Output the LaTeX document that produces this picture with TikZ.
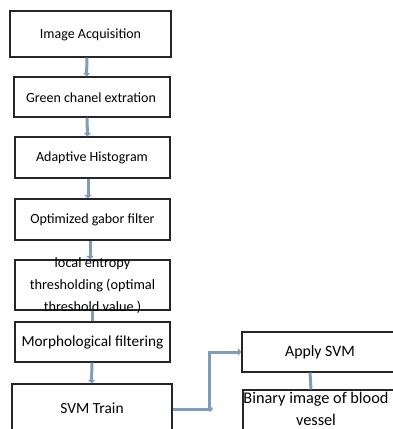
\documentclass[tikz,border=0pt]{standalone}
\usepackage{fontspec}
\setmainfont{Carlito}
\usetikzlibrary{arrows.meta}
\definecolor{arr}{HTML}{7F9CB8}
\tikzset{
  box/.style={draw=black!85, line width=1.1pt, rectangle, inner sep=0pt},
  lbl/.style={font=\fontsize{14}{16}\selectfont, inner sep=0pt, align=center},
  big/.style={font=\fontsize{15.5}{22}\selectfont},
  flow/.style={draw=arr, line width=3pt, -{Triangle[length=3.5pt,width=7pt]}},
  plain/.style={draw=arr, line width=3pt}
}
\begin{document}
\begin{tikzpicture}[x=1pt,y=-1pt]
\useasboundingbox (0,0) rectangle (393,429);
\begin{scope}
\clip (0,0) rectangle (393,429);
\node[box, minimum width=161pt, minimum height=46pt] (b1) at (90.5,34) {};
\node[box, minimum width=156pt, minimum height=40pt] (b2) at (92,97) {};
\node[box, minimum width=155pt, minimum height=41pt] (b3) at (92.5,157.5) {};
\node[box, minimum width=155pt, minimum height=41pt] (b4) at (92.5,219.5) {};
\node[box, minimum width=155pt, minimum height=50pt] (b5) at (92.5,285) {};
\node[box, minimum width=155pt, minimum height=40pt] (b6) at (92.5,342) {};
\node[box, minimum width=160pt, minimum height=60pt] (b7) at (92,414) {};
\node[box, minimum width=160pt, minimum height=40pt] (a1) at (322,352) {};
\node[box, minimum width=160pt, minimum height=60pt] (a2) at (323,420) {};

\node[lbl] (t1) at (90.5,35) {Image Acquisition};
\node[lbl] (t2) at (91,98) {Green chanel extration};
\node[lbl] (t3) at (92,158) {Adaptive Histogram};
\node[lbl] (t4) at (92.5,220) {Optimized gabor filter};
\node[lbl, font=\fontsize{14.3}{22}\selectfont] (t5) at (92.5,286) {local entropy\\thresholding (optimal\\threshold value )};
\node[lbl, font=\fontsize{15.3}{18}\selectfont] (t6) at (92.5,342) {Morphological filtering};
\node[lbl, big] (t7) at (92,408) {SVM Train};
\node[lbl, font=\fontsize{15.8}{18}\selectfont] (t8) at (320,352) {Apply SVM};
\node[lbl, font=\fontsize{16.3}{22}\selectfont] (t9) at (316,409) {Binary image of blood\\vessel};

\draw[flow] ([xshift=-3.5pt]b1.south) -- ([xshift=-5.5pt]b2.north);
\draw[flow] ([xshift=-5pt]b2.south) -- ([xshift=-5pt]b3.north);
\draw[flow] ([xshift=-4.5pt]b3.south) -- ([xshift=-4.5pt]b4.north);
\draw[flow] ([xshift=-2.5pt]b4.south) -- ([xshift=-2.5pt]b5.north);
\draw[plain] ([xshift=-0.5pt]b5.south) -- ([xshift=-0.5pt]b6.north);
\draw[flow] ([xshift=-0.5pt]b6.south) -- ([xshift=-0.5pt]b7.north);
\coordinate (j1) at (213,409);
\coordinate (j2) at (209,409);
\coordinate (j3) at (209,352);
\draw[flow] (b7.east |- j1) -- (j1);
\draw[plain] (j2) -- (j3);
\draw[flow] ([xshift=-1.5pt]j3) -- (a1.west |- j3);
\draw[plain] ([xshift=-12pt]a1.south) -- ([xshift=-12pt]a2.north);
\end{scope}
\end{tikzpicture}
\end{document}
